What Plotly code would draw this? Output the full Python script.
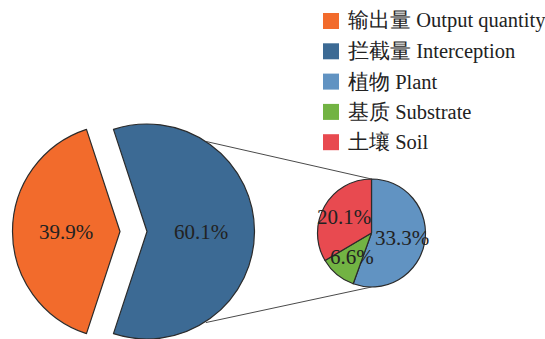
import math
import plotly.graph_objects as go

# ---- data ----
main_labels = ["输出量 Output quantity", "拦截量 Interception"]
main_values = [39.9, 60.1]
main_colors = ["#F26B2C", "#3C6A94"]

sub_labels = ["植物 Plant", "基质 Substrate", "土壤 Soil"]
sub_values = [33.3, 6.6, 20.1]
sub_colors = ["#6193C2", "#72B343", "#E84A50"]

# ---- canvas / geometry (pixels) ----
W, H = 545, 339
BIG_R = 108
BIG_CY = 232
BIG_CX = 133.5
GAP = 13.5           # how far each main slice is pulled from the centre
SMALL_R = 54
SMALL_CX, SMALL_CY = 371.5, 233
LINK_ANGLE = 57      # degrees, where the link lines leave the interception wedge

OUTLINE = "#2b2b2b"
TEXT = "#222222"
FONT = "Liberation Serif"


def px(x):
    return x / W


def py(y):
    return 1 - y / H


def domain(cx, cy, r):
    return dict(x=[px(cx - r), px(cx + r)],
                y=[max(0, py(cy + r)), min(1, py(cy - r))])


fig = go.Figure()
annotations = []
shapes = []

total = sum(main_values)
rotation = 270 - 180 * main_values[0] / total  # first slice centred on the left

# each main slice is its own trace so it can be offset (exploded) freely
centres = []
for i, (lab, val, col) in enumerate(zip(main_labels, main_values, main_colors)):
    # slice mid-angle (clockwise from 12 o'clock)
    start = rotation + 360 * sum(main_values[:i]) / total
    mid = start + 180 * val / total
    dx, dy = math.sin(math.radians(mid)), -math.cos(math.radians(mid))
    cx, cy = BIG_CX + GAP * dx, BIG_CY + GAP * dy
    centres.append((cx, cy))
    colors = ["rgba(0,0,0,0)"] * len(main_values)
    widths = [0] * len(main_values)
    colors[i] = col
    widths[i] = 1.2
    fig.add_trace(go.Pie(
        labels=main_labels, values=main_values, sort=False,
        direction="clockwise", rotation=rotation,
        marker=dict(colors=colors, line=dict(color=OUTLINE, width=widths)),
        textinfo="none", hoverinfo="skip", showlegend=False,
        domain=domain(cx, cy, BIG_R),
    ))
    lx, ly = cx + 0.5 * BIG_R * dx, cy + 0.5 * BIG_R * dy
    annotations.append(dict(x=px(lx), y=py(ly), xref="paper", yref="paper",
                            xanchor="center", yanchor="middle",
                            text=f"{val:.1f}%", showarrow=False,
                            font=dict(family=FONT, size=21, color=TEXT)))

# breakdown pie of the interception share
fig.add_trace(go.Pie(
    labels=sub_labels, values=sub_values, sort=False,
    direction="clockwise", rotation=0,
    marker=dict(colors=sub_colors, line=dict(color=OUTLINE, width=1.2)),
    textinfo="none", hoverinfo="skip", showlegend=False,
    domain=domain(SMALL_CX, SMALL_CY, SMALL_R),
))
sub_total = sum(sub_values)
for i, val in enumerate(sub_values):
    mid = 360 * (sum(sub_values[:i]) + val / 2) / sub_total
    dx, dy = math.sin(math.radians(mid)), -math.cos(math.radians(mid))
    lx, ly = SMALL_CX + 0.58 * SMALL_R * dx, SMALL_CY + 0.58 * SMALL_R * dy
    annotations.append(dict(x=px(lx), y=py(ly), xref="paper", yref="paper",
                            xanchor="center", yanchor="middle",
                            text=f"{val:.1f}%", showarrow=False,
                            font=dict(family=FONT, size=21, color=TEXT)))

# link lines from the interception wedge to the breakdown pie
bcx, bcy = centres[1]
for sign in (1, -1):
    a = math.radians(LINK_ANGLE)
    x0 = bcx + BIG_R * math.cos(a)
    y0 = bcy - sign * BIG_R * math.sin(a)
    x1 = SMALL_CX
    y1 = SMALL_CY - sign * SMALL_R
    shapes.append(dict(type="line", xref="paper", yref="paper",
                       x0=px(x0), y0=py(y0), x1=px(x1), y1=py(y1),
                       line=dict(color="#4a4a4a", width=1)))

# legend
LEG_X, LEG_Y0, LEG_STEP, SQ = 323, 21, 30.3, 16
for i, (lab, col) in enumerate(zip(main_labels + sub_labels,
                                   main_colors + sub_colors)):
    yc = LEG_Y0 + i * LEG_STEP
    shapes.append(dict(type="rect", xref="paper", yref="paper",
                       x0=px(LEG_X), x1=px(LEG_X + SQ),
                       y0=py(yc + SQ / 2), y1=py(yc - SQ / 2),
                       fillcolor=col, line=dict(width=0)))
    annotations.append(dict(x=px(LEG_X + SQ + 7), y=py(yc), xref="paper",
                            yref="paper", xanchor="left", yanchor="middle",
                            text=lab, showarrow=False,
                            font=dict(family=FONT, size=20.5, color=TEXT)))

fig.update_layout(
    width=W, height=H,
    margin=dict(l=0, r=0, t=0, b=0),
    paper_bgcolor="white", plot_bgcolor="white",
    showlegend=False,
    font=dict(family=FONT),
    annotations=annotations, shapes=shapes,
)

fig.write_html("out.html")
